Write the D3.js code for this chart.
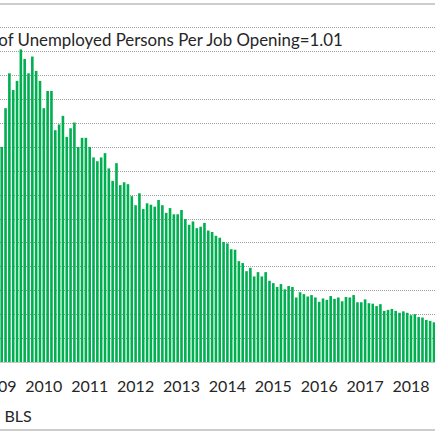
<!DOCTYPE html>
<html>
<head>
<meta charset="utf-8">
<script src="https://cdn.jsdelivr.net/npm/d3@7"></script>
<style>
  html, body { margin: 0; padding: 0; background: #fff; }
  svg { display: block; }
  text { font-family: Lato, "Noto Sans", sans-serif; fill: #262626; }
</style>
</head>
<body>
<div id="chart"></div>
<script>
// unemployed persons per job opening, one value per month
// (January 2009 sits outside the cropped frame, so it has no bar)
const years = ['2009', '2010', '2011', '2012', '2013', '2014', '2015', '2016', '2017', '2018'];
const ratio2009 = [null, 4.50, 5.31, 6.04, 5.69, 5.88, 6.54, 6.34, 6.04, 6.39, 6.09, 5.88];
const ratio2010 = [5.31, 5.67, 5.67, 4.85, 4.97, 5.15, 4.71, 4.89, 5.01, 4.50, 4.69, 4.69];
const ratio2011 = [4.50, 4.28, 4.20, 4.28, 4.37, 4.05, 3.79, 4.16, 3.70, 3.76, 3.72, 3.47];
const ratio2012 = [3.28, 3.53, 3.20, 3.32, 3.29, 3.25, 3.39, 3.28, 3.12, 3.22, 3.09, 3.09];
const ratio2013 = [3.18, 2.99, 2.87, 2.94, 2.80, 2.83, 2.91, 2.75, 2.72, 2.64, 2.60, 2.51];
const ratio2014 = [2.48, 2.36, 2.35, 2.11, 2.07, 1.90, 1.97, 1.79, 1.88, 1.79, 1.88, 1.70];
const ratio2015 = [1.65, 1.57, 1.63, 1.52, 1.59, 1.57, 1.35, 1.46, 1.42, 1.37, 1.40, 1.35];
const ratio2016 = [1.26, 1.33, 1.30, 1.38, 1.32, 1.35, 1.27, 1.36, 1.35, 1.40, 1.25, 1.25];
const ratio2017 = [1.31, 1.23, 1.22, 1.17, 1.21, 1.07, 1.09, 1.11, 1.07, 1.03, 1.06, 1.03];
const ratio2018 = [0.98, 1.00, 0.94, 0.93, 0.88, 0.86, 0.83];

const titleText = 'Ratio of Unemployed Persons Per Job Opening=1.01';
const sourceText = 'Source: BLS';

const width = 435, height = 435;
const ratios = [ratio2009, ratio2010, ratio2011, ratio2012, ratio2013,
                ratio2014, ratio2015, ratio2016, ratio2017, ratio2018];

const data = [];
ratios.forEach((arr, yi) => {
  arr.forEach((v, mi) => data.push({ key: years[yi] + '-' + (mi + 1), value: v }));
});

const step = 3.825;
const x0 = -2.1 - step / 2;
const x = d3.scaleBand()
  .domain(data.map(d => d.key))
  .range([x0, x0 + step * data.length])
  .paddingInner(0.32)
  .paddingOuter(0.16);

const y = d3.scaleLinear()
  .domain([0, 7])
  .range([362, 27.4]);

const svg = d3.select('#chart').append('svg')
  .attr('width', width)
  .attr('height', height);

// frame lines (the left and right sides are cropped away)
svg.selectAll('line.frame')
  .data([4, 430])
  .enter()
  .append('line')
  .attr('class', 'frame')
  .attr('x1', 0).attr('x2', width)
  .attr('y1', d => d).attr('y2', d => d)
  .attr('stroke', '#9a9a9a')
  .attr('stroke-width', 1.2);

// dotted gridlines
svg.append('g')
  .selectAll('line')
  .data(y.ticks(14).filter(t => t > 0))
  .enter()
  .append('line')
  .attr('x1', 0).attr('x2', width)
  .attr('y1', d => Math.round(y(d)) + 0.5)
  .attr('y2', d => Math.round(y(d)) + 0.5)
  .attr('stroke', '#9f9f9f')
  .attr('stroke-width', 1)
  .attr('stroke-dasharray', '1,1');

// bars
svg.append('g')
  .selectAll('rect')
  .data(data.filter(d => d.value != null))
  .enter()
  .append('rect')
  .attr('x', d => x(d.key))
  .attr('width', x.bandwidth())
  .attr('y', d => y(d.value))
  .attr('height', d => y(0) - y(d.value))
  .attr('fill', '#00b050');

// x axis, one label per January
const xAxis = d3.axisBottom(x)
  .tickValues(years.map(yr => yr + '-1'))
  .tickFormat(k => k.split('-')[0])
  .tickSize(0);

const gx = svg.append('g')
  .attr('transform', `translate(0,${y(0)})`)
  .call(xAxis);
gx.select('.domain').attr('stroke', '#c8c8c8');
gx.selectAll('text')
  .attr('y', 30.3)
  .attr('dy', null)
  .attr('font-size', 16)
  .attr('font-family', 'Lato, "Noto Sans", sans-serif')
  .attr('fill', '#262626');

// title: fit the visible part ("of ... =1.01") between x=-2 and x=342.7
const probe = svg.append('text')
  .attr('font-size', 17)
  .text(titleText.slice(titleText.indexOf('of')));
const probeW = probe.node().getComputedTextLength();
probe.remove();
const titleSize = 17 * 344.7 / probeW;

svg.append('text')
  .attr('x', 342.7)
  .attr('y', 45.7)
  .attr('text-anchor', 'end')
  .attr('font-size', titleSize)
  .text(titleText);

svg.append('text')
  .attr('x', 31.7)
  .attr('y', 422.3)
  .attr('text-anchor', 'end')
  .attr('font-size', 16)
  .text(sourceText);
</script>
</body>
</html>
